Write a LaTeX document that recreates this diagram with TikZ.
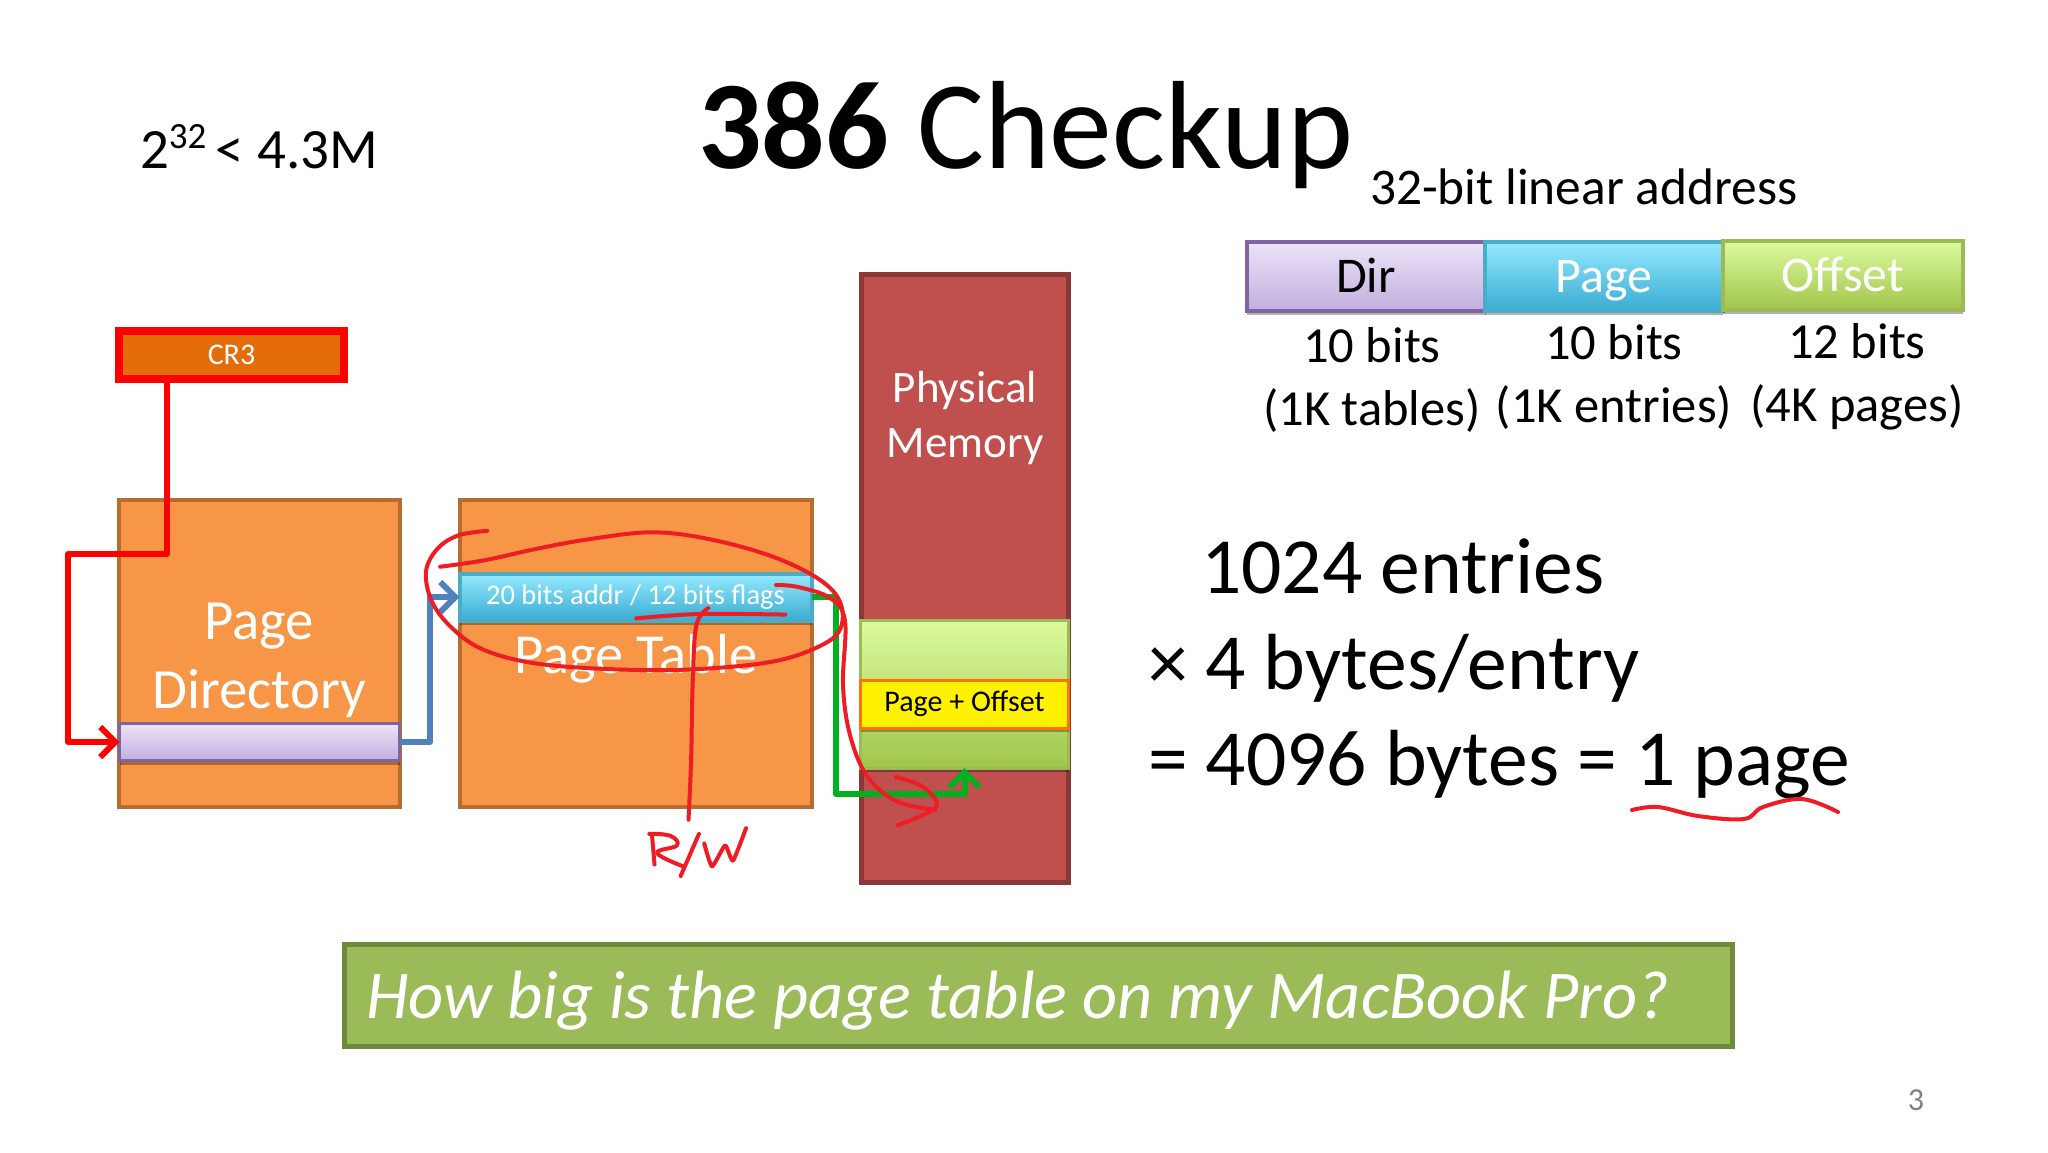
\documentclass[tikz,border=0pt]{standalone}
\usepackage{fontspec}
\setmainfont{Carlito}
\usetikzlibrary{arrows.meta,shadows}
\newcommand{\fsz}[1]{\fontsize{#1}{#1}\selectfont}
\definecolor{orbox}{HTML}{F79646}
\definecolor{orline}{HTML}{B66D31}
\definecolor{memred}{HTML}{C0504D}
\definecolor{memline}{HTML}{8C3836}
\definecolor{hand}{HTML}{EE1C25}
\definecolor{linkblue}{HTML}{4F81BD}
\definecolor{linkgreen}{HTML}{00B020}
\definecolor{barfill}{HTML}{9BBB59}
\definecolor{barline}{HTML}{6F8A3B}
\tikzset{
  softshadow/.style={drop shadow={shadow xshift=0pt,shadow yshift=-4pt,opacity=.3,fill=black}},
  cell/.style={draw,inner sep=0pt,outer sep=0pt,line width=4pt,text=white,align=center},
  orangebox/.style={cell,fill=orbox,draw=orline},
  lavender/.style={cell,softshadow,top color={rgb,255:red,236;green,228;blue,248},bottom color={rgb,255:red,194;green,174;blue,222},draw={rgb,255:red,128;green,100;blue,162},text=black},
  cyanbar/.style={cell,softshadow,top color={rgb,255:red,148;green,234;blue,255},bottom color={rgb,255:red,58;green,172;blue,210},draw={rgb,255:red,75;green,172;blue,198}},
  limebar/.style={cell,softshadow,top color={rgb,255:red,220;green,250;blue,158},bottom color={rgb,255:red,162;green,198;blue,76},draw={rgb,255:red,155;green,187;blue,89}},
  lbl/.style={inner sep=0pt,outer sep=0pt,text=black},
  fieldtext/.style={font=\fsz{50},text height=32pt,text depth=0pt},
  conn/.style={line width=6pt,line join=round,-{Straight Barb[length=15pt,width=30pt,line width=6pt]}},
  pen/.style={draw=hand,line width=4pt,line cap=round,line join=round},
}
\begin{document}
\begin{tikzpicture}[x=1pt,y=-1pt]
\useasboundingbox (0,0) rectangle (2048,1152);
\fill[white] (0,0) rectangle (2048,1152);
% title and top labels
\node[lbl,anchor=base west] (title) at (698,168) {\fsz{125.5}\textbf{386} Checkup};
\node[lbl,anchor=base west] (pow) at (140,168) {\fsz{57}2\raisebox{20pt}{\fsz{37}32}\,< 4.3M};
\node[lbl,anchor=base west] (addr) at (1370,204) {\fsz{51.4}32-bit linear address};
% address fields
\node[lavender,fieldtext,minimum width=239pt,minimum height=69pt] (dir) at (1366,276) {Dir};
\node[cyanbar,fieldtext,minimum width=238pt,minimum height=69pt] (pagef) at (1604,276) {Page};
\node[limebar,fieldtext,minimum width=240pt,minimum height=69pt] (off) at (1843,275) {Offset};
\node[lbl,font=\fsz{50.5},align=center] (b1) at (1372,380) {10 bits\\[13pt](1K tables)};
\node[lbl,font=\fsz{50.5},align=center] (b2) at (1614,377) {10 bits\\[13pt](1K entries)};
\node[lbl,font=\fsz{50.5},align=center] (b3) at (1857,377) {12 bits\\[13pt](4K pages)};
% physical memory
\node[cell,fill=memred,draw=memline,line width=5pt,minimum width=207pt,minimum height=608pt] (mem) at (964.5,578) {};
\node[lbl,text=white,font=\fsz{45},align=center] (memt) at (965,418) {Physical\\[10pt]Memory};
\node[limebar,line width=3pt,minimum width=208pt,minimum height=148pt] (pg) at (964.5,694) {};
\node[cell,fill=yellow,draw=orange!90!red,line width=3pt,softshadow,text=black,minimum width=208pt,minimum height=48pt,font=\fsz{30}] (po) at (964.5,704) {Page + Offset};
% tables
\node[orangebox,minimum width=281pt,minimum height=307pt] (pd) at (259.5,653.5) {};
\node[orangebox,minimum width=352pt,minimum height=307pt] (pt) at (635.5,653.5) {};
\node[lbl,text=white,font=\fsz{56.8},align=center] (pdt) at (259,660) {Page\\[12pt]Directory};
\node[lbl,text=white,font=\fsz{56.5}] (ptt) at (636,659) {Page Table};
\node[lavender,line width=3pt,minimum width=280pt,minimum height=37pt] (pde) at (259.5,742) {};
\node[cyanbar,minimum width=352pt,minimum height=47pt,font=\fsz{28.5}] (pte) at (635.5,597) {20 bits addr / 12 bits flags};
% CR3
\node[cell,fill={rgb,255:red,228;green,108;blue,10},draw=red,line width=8pt,softshadow,minimum width=225pt,minimum height=48pt,font=\fsz{30}] (cr3) at (231.5,355) {CR3};
% connectors
\coordinate (rdrop) at (167,554);
\coordinate (rleft) at (68,554);
\coordinate (bmid) at (430,742);
\coordinate (gmid) at (836,597);
\coordinate (gbot) at (836,794);
\draw[conn,draw=red] (cr3.south -| rdrop) -- (rdrop) -- (rleft) |- (pde.west);
\draw[conn,draw=linkblue] (pde.east) -- (bmid) |- (pte.west);
\draw[conn,draw=linkgreen] (pte.east) -- (gmid) -- (gbot) -| (pg.south);
% bottom bar
\node[cell,fill=barfill,draw=barline,line width=5pt,minimum width=1388pt,minimum height=102pt] (q) at (1038,995) {};
\node[lbl,text=white,font=\fsz{68.4}\itshape,anchor=base west] (qt) at (366,1018) {How big is the page table on my MacBook Pro?};
% entries sum
\node[lbl,anchor=base west,font=\fsz{79.6}] (s1) at (1201,593) {1024 entries};
\node[lbl,anchor=base west,font=\fsz{79.6}] (s2) at (1148,689) {× 4 bytes/entry};
\node[lbl,anchor=base west,font=\fsz{79.6}] (s3) at (1148,785) {= 4096 bytes = 1 page};
\node[lbl,text=black!50,font=\fsz{32}] (num) at (1916,1100) {3};
% handwriting
\begin{scope}[shift={(40,300)},x=.523pt,y=-.3827pt]
\draw[pen] plot[smooth,tension=.6] coordinates {(855,603) (800,615) (760,650) (738,710) (750,790) (790,860) (850,915) (950,950) (1100,965) (1250,965) (1400,945) (1490,905) (1530,860) (1530,790) (1490,730) (1400,670) (1280,625) (1170,607) (1050,625) (950,650) (850,680) (765,697)};
\draw[pen] plot[smooth,tension=.6] coordinates {(1140,832) (1200,825) (1280,820) (1425,822)};
\draw[pen] plot[smooth,tension=.6] coordinates {(1278,805) (1255,850) (1248,1000) (1245,1200) (1240,1358)};
\draw[pen] (1170,1395) -- (1175,1475);
\draw[pen] plot[smooth,tension=.7] coordinates {(1165,1395) (1205,1400) (1218,1425) (1180,1445) (1230,1480)};
\draw[pen] (1260,1395) -- (1225,1505);
\draw[pen] plot[smooth,tension=.3] coordinates {(1270,1420) (1285,1480) (1310,1425) (1325,1465) (1350,1380)};
\end{scope}
\draw[pen] plot[smooth,tension=.6] coordinates {(776,585) (798,587) (830,598) (845,621) (843,685) (850,735) (867,776) (896,801) (935,810)};
\draw[pen] plot[smooth,tension=.6] coordinates {(896,777) (923,787) (936,807) (898,825)};
\draw[pen] plot[smooth,tension=.6] coordinates {(1632,810) (1658,807) (1698,816) (1744,819) (1763,807) (1802,799) (1838,812)};
\end{tikzpicture}
\end{document}
